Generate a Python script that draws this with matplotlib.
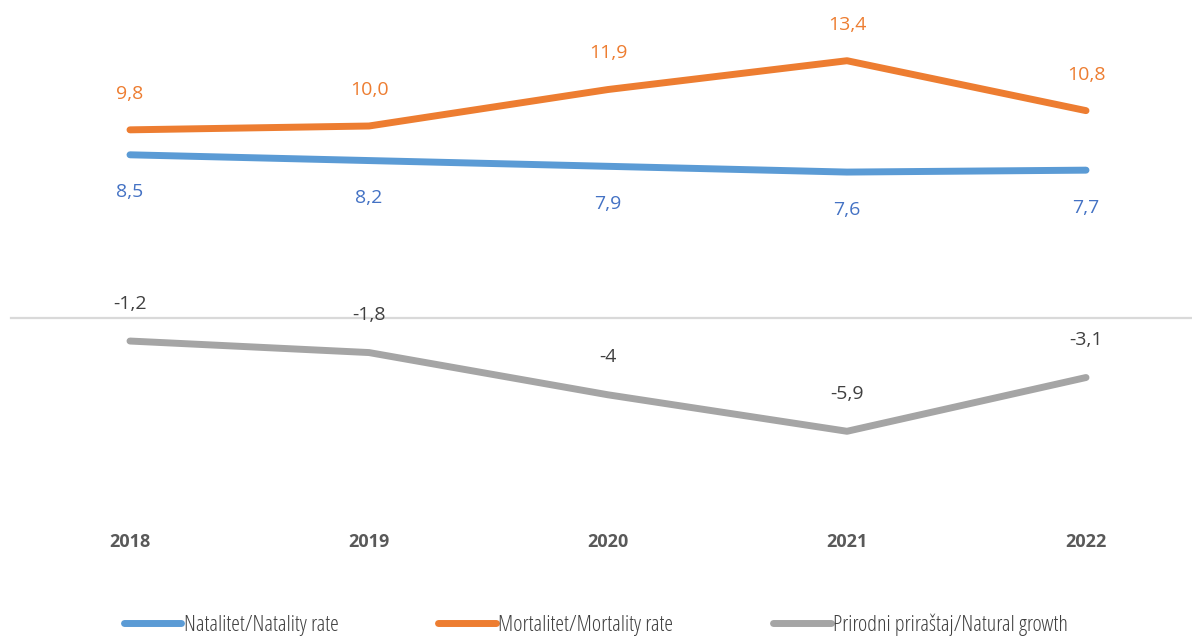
import matplotlib.pyplot as plt

years = ['2018', '2019', '2020', '2021', '2022']
natality = [8.5, 8.2, 7.9, 7.6, 7.7]
mortality = [9.8, 10.0, 11.9, 13.4, 10.8]
growth = [-1.2, -1.8, -4, -5.9, -3.1]

natality_labels = ['8,5', '8,2', '7,9', '7,6', '7,7']
mortality_labels = ['9,8', '10,0', '11,9', '13,4', '10,8']
growth_labels = ['-1,2', '-1,8', '-4', '-5,9', '-3,1']

blue = '#5B9BD5'
orange = '#ED7D31'
grey = '#A5A5A5'

plt.rcParams['font.family'] = ['Open Sans', 'DejaVu Sans']

fig = plt.figure(figsize=(11.92, 6.38), dpi=100)
ax = fig.add_axes([0, 0, 1, 1])
ax.set_xlim(-130 / 239, (1192 - 130) / 239)
ax.set_ylim(-(638 - 318) / 19.2, 318 / 19.2)
ax.axis('off')

x = list(range(len(years)))
ax.plot([-0.5, 4.5], [0, 0], color='#D9D9D9', lw=1.6, zorder=1)

ax.plot(x, natality, color=blue, lw=5, solid_capstyle='round', label='Natalitet/Natality rate', zorder=3)
ax.plot(x, mortality, color=orange, lw=5, solid_capstyle='round', label='Mortalitet/Mortality rate', zorder=3)
ax.plot(x, growth, color=grey, lw=5, solid_capstyle='round', label='Prirodni priraštaj/Natural growth', zorder=3)

for i in x:
    ax.annotate(mortality_labels[i], (i, mortality[i]), xytext=(0, 26), textcoords='offset points',
                ha='center', va='center', fontsize=14, color='#ED7D31')
    ax.annotate(natality_labels[i], (i, natality[i]), xytext=(0, -27), textcoords='offset points',
                ha='center', va='center', fontsize=14, color='#4472C4')
    ax.annotate(growth_labels[i], (i, growth[i]), xytext=(0, 27), textcoords='offset points',
                ha='center', va='center', fontsize=14, color='#404040')
    ax.text(i, (318 - 542) / 19.2, years[i], ha='center', va='center', fontsize=13,
            fontweight='bold', color='#595959')

leg = fig.legend(loc='center', bbox_to_anchor=(0.5, 1 - 625 / 638), ncol=3, frameon=False,
                 prop={'size': 16, 'stretch': 'condensed'},
                 handlelength=2.6, handletextpad=0.1, columnspacing=4.5)
for t in leg.get_texts():
    t.set_color('#404040')

fig.savefig('out.png', dpi=100)
